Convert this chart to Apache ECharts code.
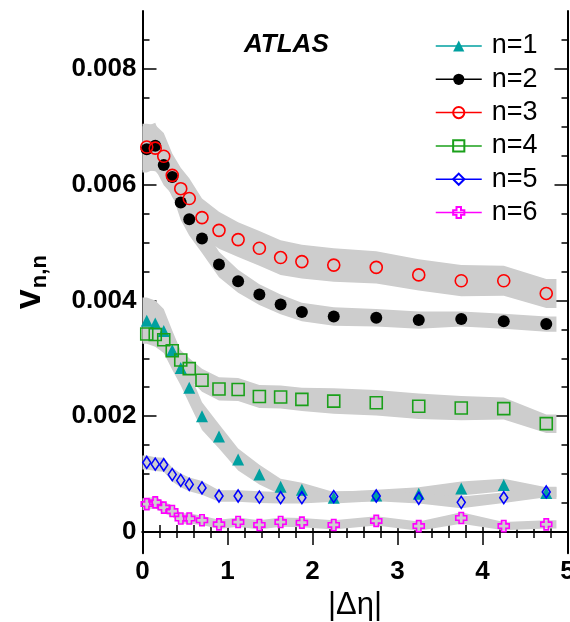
<!DOCTYPE html>
<html>
<head>
<meta charset="utf-8">
<script src="https://cdn.jsdelivr.net/npm/echarts@6/dist/echarts.min.js"></script>
<style>
html, body { margin: 0; padding: 0; background: #fff; }
#chart { width: 570px; height: 622px; }
</style>
</head>
<body>
<div id="chart"></div>
<script>
// |Δη| bin centres
var dEta = [0.05, 0.15, 0.25, 0.35, 0.45, 0.55, 0.7, 0.9, 1.125, 1.375, 1.625, 1.875, 2.25, 2.75, 3.25, 3.75, 4.25, 4.75];

// v_{n,n} values per harmonic
var v1 = [0.00365, 0.00360, 0.00347, 0.00314, 0.00283, 0.00249, 0.00200, 0.00165, 0.00125, 0.00099, 0.00078, 0.00073, 0.00059, 0.00063, 0.00066, 0.00075, 0.00081, 0.00067];
var v2 = [0.00661, 0.00667, 0.00634, 0.00613, 0.00569, 0.00540, 0.00507, 0.00462, 0.00433, 0.00410, 0.00393, 0.00380, 0.00372, 0.00370, 0.00366, 0.00368, 0.00364, 0.00359];
var v3 = [0.00665, 0.00663, 0.00649, 0.00616, 0.00593, 0.00576, 0.00543, 0.00521, 0.00505, 0.00490, 0.00474, 0.00467, 0.00461, 0.00457, 0.00444, 0.00434, 0.00434, 0.00412];
var v4 = [0.00342, 0.00341, 0.00332, 0.00313, 0.00297, 0.00282, 0.00262, 0.00247, 0.00246, 0.00234, 0.00233, 0.00229, 0.00226, 0.00223, 0.00217, 0.00214, 0.00213, 0.00187];
var v5 = [0.00120, 0.00117, 0.00116, 0.00099, 0.00089, 0.00082, 0.00076, 0.00062, 0.00062, 0.00060, 0.00059, 0.00059, 0.00061, 0.00062, 0.00058, 0.00051, 0.00059, 0.00069];
var v6 = [0.00048, 0.00051, 0.00042, 0.00036, 0.00023, 0.00023, 0.00020, 0.00013, 0.00017, 0.00012, 0.00017, 0.00016, 0.00012, 0.00019, 0.00010, 0.00024, 0.00010, 0.00013];

// systematic uncertainties (half width of grey band)
var e1 = [0.00040, 0.00040, 0.00038, 0.00034, 0.00030, 0.00027, 0.00024, 0.00021, 0.00019, 0.00017, 0.00014, 0.00012, 0.00010, 0.00010, 0.00011, 0.00012, 0.00011, 0.00010];
var e2 = [0.00040, 0.00040, 0.00035, 0.00030, 0.00030, 0.00028, 0.00025, 0.00022, 0.00020, 0.00018, 0.00017, 0.00016, 0.00016, 0.00015, 0.00015, 0.00013, 0.00013, 0.00013];
var e3 = [0.00040, 0.00040, 0.00040, 0.00038, 0.00036, 0.00035, 0.00033, 0.00032, 0.00030, 0.00030, 0.00030, 0.00029, 0.00029, 0.00028, 0.00027, 0.00027, 0.00026, 0.00025];
var e4 = [0.00013, 0.00013, 0.00014, 0.00016, 0.00017, 0.00018, 0.00020, 0.00020, 0.00020, 0.00020, 0.00020, 0.00020, 0.00022, 0.00022, 0.00022, 0.00021, 0.00019, 0.00016];
var e5 = [0.00012, 0.00012, 0.00012, 0.00012, 0.00012, 0.00012, 0.00012, 0.00010, 0.00010, 0.00010, 0.00010, 0.00010, 0.00009, 0.00009, 0.00009, 0.00010, 0.00009, 0.00009];
var e6 = [0.00010, 0.00010, 0.00010, 0.00010, 0.00009, 0.00009, 0.00008, 0.00008, 0.00008, 0.00008, 0.00008, 0.00008, 0.00008, 0.00008, 0.00008, 0.00010, 0.00007, 0.00007];

// band goes from the axis to a bit past the last bin
var bandEnds = [0, 4.87];
var zeroX = [0, 5];

// axis ticks
var yMajor = [0, 0.002, 0.004, 0.006, 0.008];
var yMinor = [0.0005, 0.001, 0.0015, 0.0025, 0.003, 0.0035, 0.0045, 0.005, 0.0055, 0.0065, 0.007, 0.0075, 0.0085];
var legendNames = ['n=1', 'n=2', 'n=3', 'n=4', 'n=5', 'n=6'];

var FONT = '"Liberation Sans", Arial, Helvetica, sans-serif';
var BAND = '#cdcdcd';
var Y_MIN = -0.00037, Y_MAX = 0.009;

var chart = echarts.init(document.getElementById('chart'));

// grey systematic band as one polygon
function bandSeries(vals, errs) {
    var xs = [bandEnds[0]].concat(dEta, [bandEnds[1]]);
    var mid = [vals[0]].concat(vals, [vals[vals.length - 1]]);
    var err = [errs[0]].concat(errs, [errs[errs.length - 1]]);
    var data = xs.map(function(x, i) { return [x, mid[i] + err[i], mid[i] - err[i]]; });
    return {
        type: 'custom', silent: true, clip: true, z: 1,
        data: data, encode: { x: 0, y: [1, 2] },
        renderItem: function(params, api) {
            if (params.dataIndex !== 0) return null;
            var pts = [];
            for (var i = 0; i < data.length; i++) pts.push(api.coord([data[i][0], data[i][1]]));
            for (var j = data.length - 1; j >= 0; j--) pts.push(api.coord([data[j][0], data[j][2]]));
            return { type: 'polygon', shape: { points: pts }, style: { fill: BAND } };
        }
    };
}

// markers (line series so the legend gets line + marker)
function markSeries(name, vals, symbol, size, color, hollow) {
    return {
        name: name, type: 'line', z: 5,
        data: dEta.map(function(x, i) { return [x, vals[i]]; }),
        symbol: symbol, symbolSize: size, showSymbol: true,
        lineStyle: { color: color, width: 0, opacity: 0 },
        itemStyle: hollow
            ? { color: 'rgba(255,255,255,0)', borderColor: color, borderWidth: 1.6 }
            : { color: color, borderWidth: 0 },
        emphasis: { disabled: true }
    };
}

var crossPath = 'path://M3,0 L7,0 L7,3 L10,3 L10,7 L7,7 L7,10 L3,10 L3,7 L0,7 L0,3 L3,3 Z';

function yAxisPart(position, values, len, showLine, showLabel) {
    return {
        type: 'value', position: position, min: Y_MIN, max: Y_MAX,
        splitLine: { show: false },
        axisLine: { show: showLine, lineStyle: { color: '#000', width: 2 } },
        axisTick: { show: true, inside: true, length: len, customValues: values, lineStyle: { color: '#000', width: 1.5 } },
        axisLabel: showLabel ? {
            show: true, customValues: values, margin: 6,
            color: '#000', fontFamily: FONT, fontWeight: 'bold', fontSize: 26,
            formatter: function(v) { return v === 0 ? '0' : v.toFixed(3); }
        } : { show: false }
    };
}

var option = {
    animation: false,
    backgroundColor: '#fff',
    textStyle: { fontFamily: FONT },
    grid: { left: 142.5, right: 2.5, top: 11, bottom: 68.7, containLabel: false, outerBoundsMode: 'none' },
    legend: {
        data: legendNames,
        orient: 'vertical', left: 430, top: 27,
        itemWidth: 46, itemHeight: 14, itemGap: 5.3,
        textStyle: { fontFamily: FONT, fontSize: 27, lineHeight: 28, color: '#000', padding: [0, 0, 0, 5] },
        lineStyle: { width: 1.5, opacity: 1 },
        selectedMode: false
    },
    xAxis: [
        {
            type: 'value', position: 'bottom', min: 0, max: 5, interval: 1,
            name: '|Δη|', nameLocation: 'middle', nameGap: 32,
            nameTextStyle: { fontFamily: FONT, fontSize: 31, color: '#000' },
            splitLine: { show: false },
            axisLine: { lineStyle: { color: '#000', width: 2 } },
            axisTick: { inside: true, length: 13, lineStyle: { color: '#000', width: 1.5 } },
            minorTick: { show: true, splitNumber: 5, length: 7, lineStyle: { color: '#000', width: 1.5 } },
            axisLabel: { margin: 6, color: '#000', fontFamily: FONT, fontWeight: 'bold', fontSize: 26, showMaxLabel: true }
        },
        {
            type: 'value', position: 'top', min: 0, max: 5, interval: 1,
            splitLine: { show: false },
            axisLine: { lineStyle: { color: '#000', width: 2 } },
            axisTick: { inside: true, length: 13, lineStyle: { color: '#000', width: 1.5 } },
            minorTick: { show: true, splitNumber: 5, length: 6, lineStyle: { color: '#000', width: 1.5 } },
            axisLabel: { show: false }
        }
    ],
    yAxis: [
        Object.assign(yAxisPart('left', yMajor, 14, true, true), {
            name: '{v|v}{s|n,n}', nameLocation: 'middle', nameGap: 92, nameRotate: 90,
            nameTextStyle: {
                rich: {
                    v: { fontFamily: FONT, fontWeight: 'bold', fontSize: 36, color: '#000', lineHeight: 40 },
                    s: { fontFamily: FONT, fontWeight: 'bold', fontSize: 22, color: '#000', lineHeight: 40, padding: [18, 0, 0, 1] }
                }
            }
        }),
        yAxisPart('left', yMinor, 7, false, false),
        yAxisPart('right', yMajor, 13, true, false),
        yAxisPart('right', yMinor, 6, false, false)
    ],
    graphic: [
        {
            type: 'text', left: 244, top: 32, z: 10,
            style: { text: 'ATLAS', fontFamily: FONT, fontWeight: 'bold', fontStyle: 'italic', fontSize: 26, fill: '#000' }
        }
    ],
    series: [
        bandSeries(v3, e3),
        bandSeries(v2, e2),
        bandSeries(v4, e4),
        bandSeries(v1, e1),
        bandSeries(v5, e5),
        bandSeries(v6, e6),
        {
            type: 'line', silent: true, z: 2, symbol: 'none',
            data: zeroX.map(function(x) { return [x, 0]; }),
            lineStyle: { color: '#000', width: 1.5, type: [1.5, 2.5] }
        },
        markSeries('n=1', v1, 'triangle', 12, '#00a0a0', false),
        markSeries('n=2', v2, 'circle', 12, '#000000', false),
        markSeries('n=3', v3, 'circle', 12, '#ff0000', true),
        markSeries('n=4', v4, 'rect', 12, '#1aa01a', true),
        markSeries('n=5', v5, 'diamond', [8, 12], '#0000ff', true),
        markSeries('n=6', v6, crossPath, 11, '#ff00ff', true)
    ]
};

chart.setOption(option);

window.onresize = function() {
    chart.resize();
};
</script>
</body>
</html>
